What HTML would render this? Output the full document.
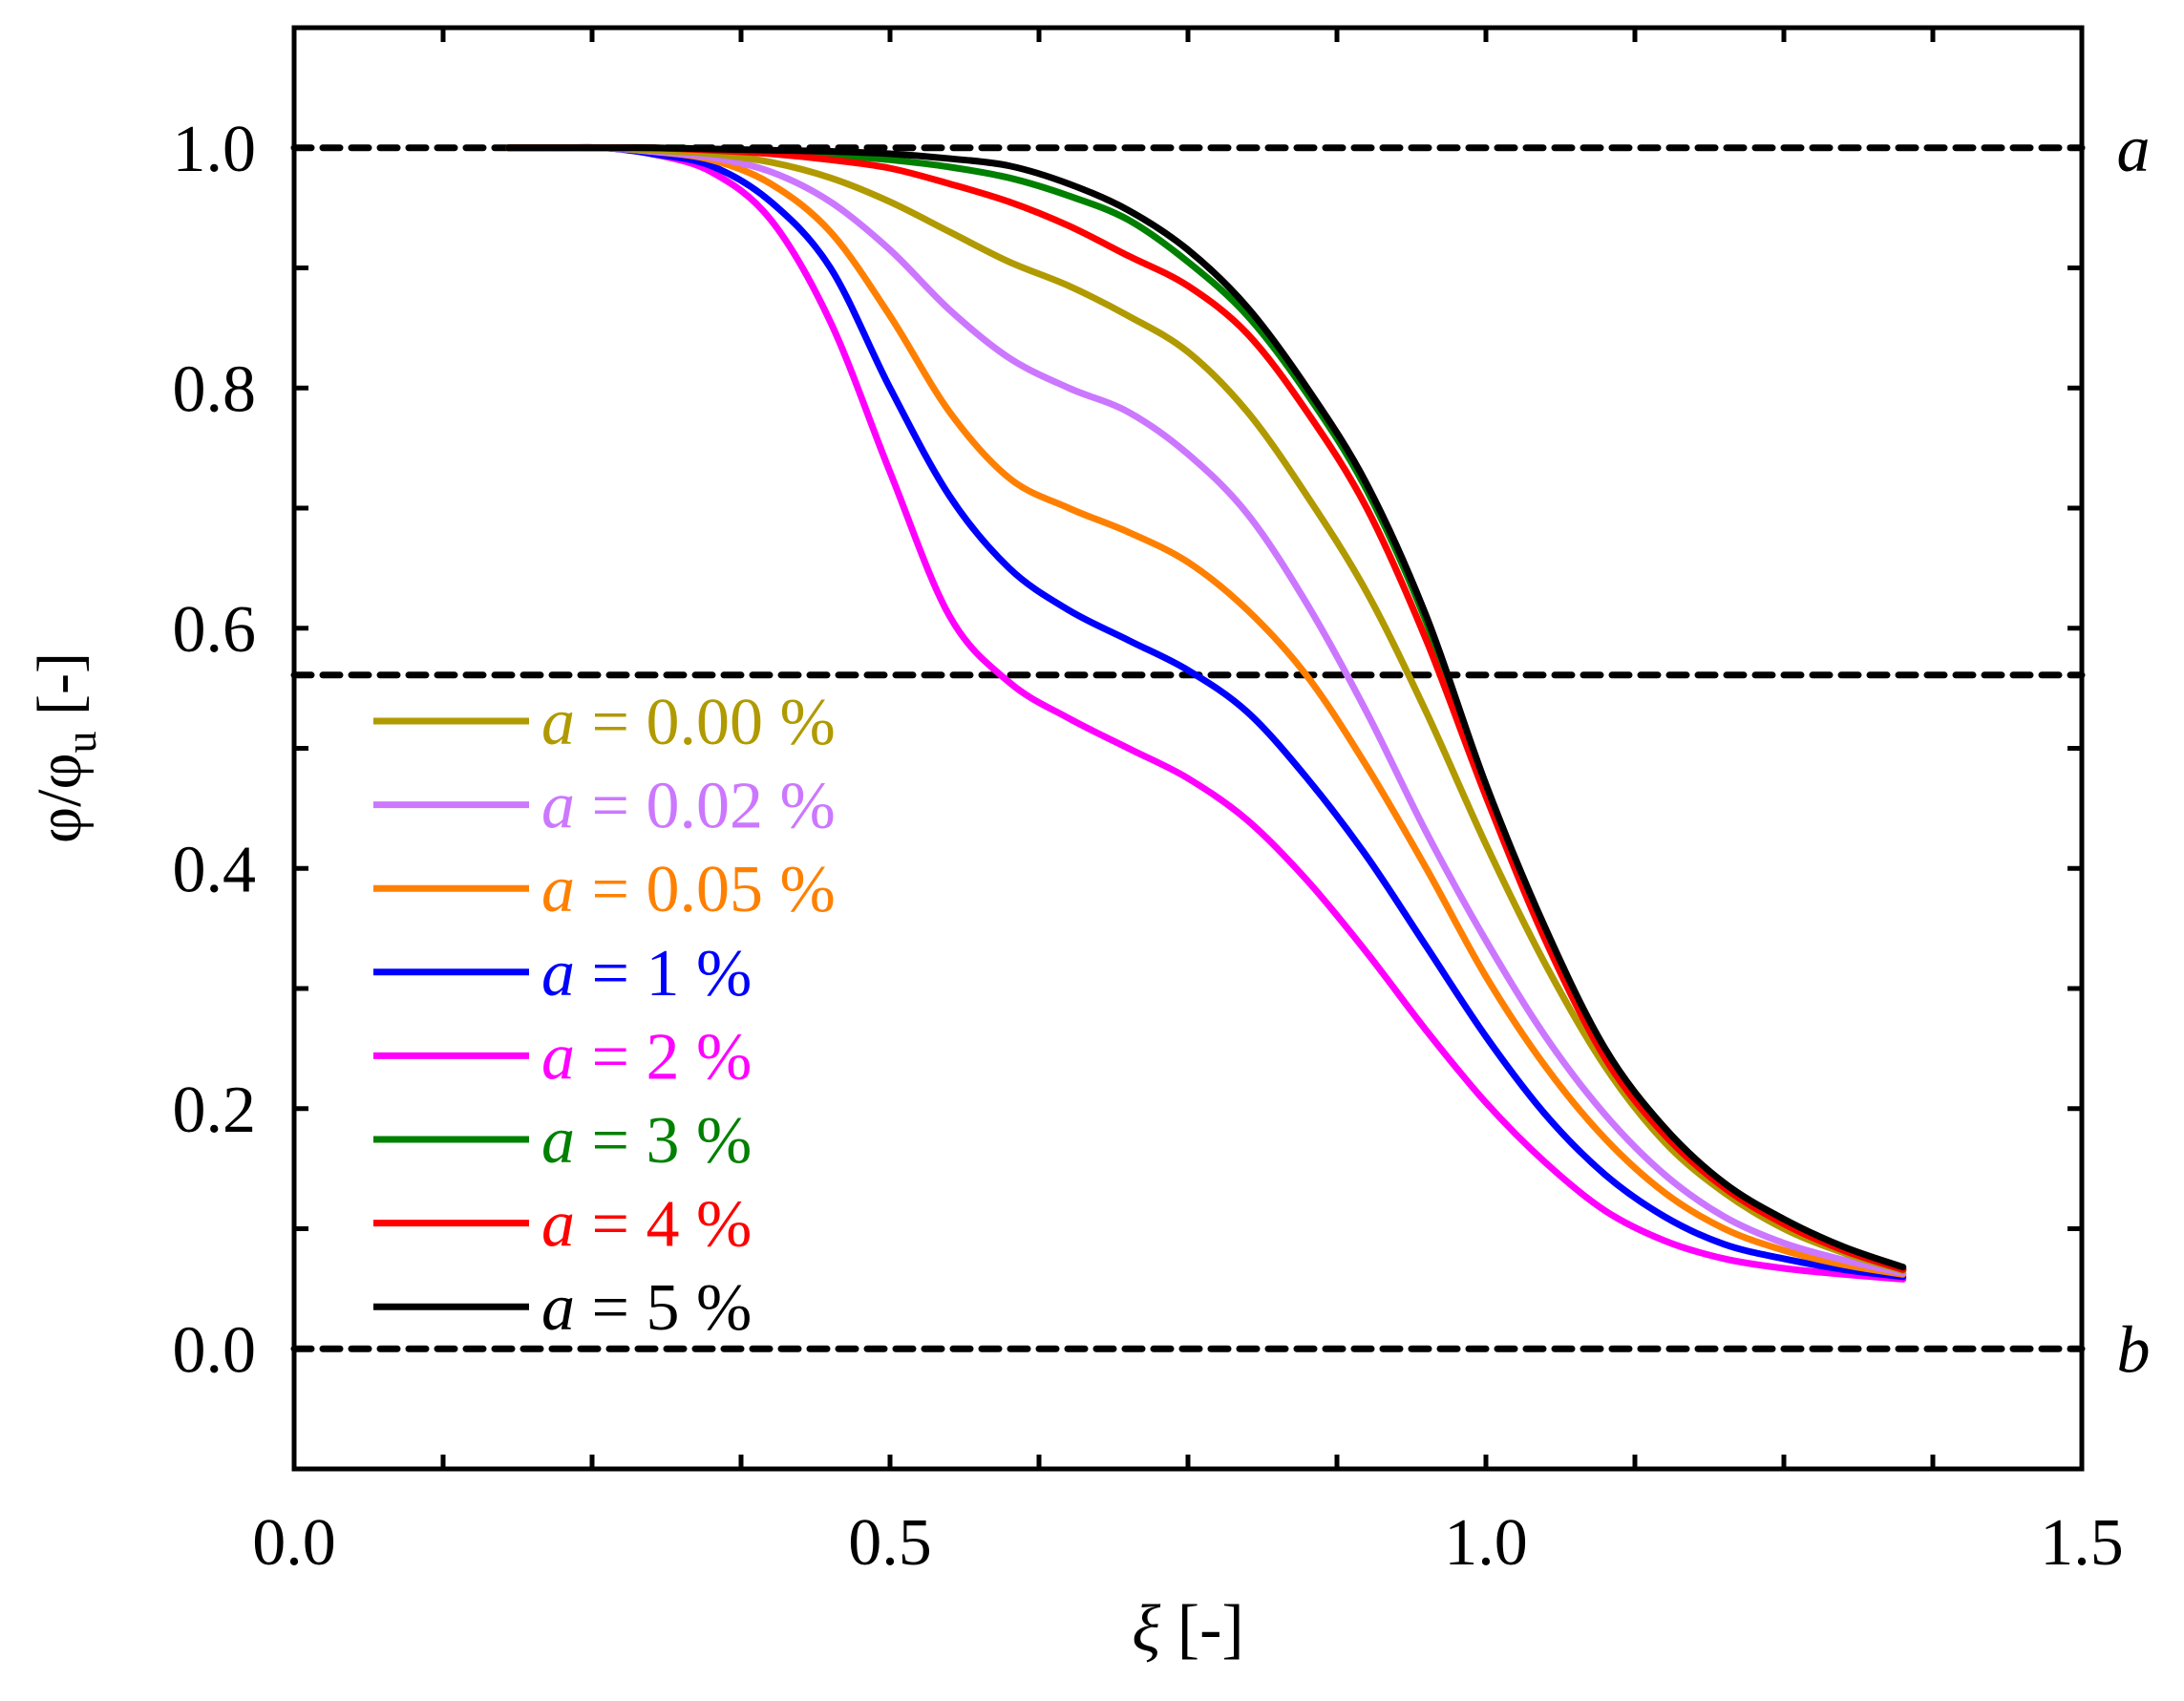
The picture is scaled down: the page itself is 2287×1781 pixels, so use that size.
<!DOCTYPE html>
<html><head><meta charset="utf-8"><style>
html,body{margin:0;padding:0;background:#fff;}
svg{display:block;font-family:"Liberation Serif",serif;}
</style></head><body>
<svg id="chart" width="2287" height="1781" viewBox="0 0 2287 1781" xmlns="http://www.w3.org/2000/svg">
<g id="plot"></g>
</svg>
<script>
const xs = [0.18,0.22,0.26,0.3,0.35,0.4,0.45,0.5,0.55,0.6,0.65,0.7,0.75,0.8,0.85,0.9,0.95,1.0,1.05,1.1,1.15,1.2,1.25,1.3,1.35];
const s000 = [1,1,1,0.998,0.995,0.988,0.975,0.955,0.93,0.905,0.885,0.86,0.83,0.78,0.71,0.63,0.53,0.42,0.32,0.235,0.172,0.13,0.1,0.08,0.065];
const s002 = [1,1,1,0.997,0.992,0.98,0.955,0.915,0.865,0.825,0.8,0.78,0.745,0.695,0.62,0.53,0.43,0.34,0.26,0.195,0.145,0.11,0.088,0.074,0.063];
const s005 = [1,1,1,0.997,0.99,0.97,0.93,0.86,0.78,0.725,0.7,0.68,0.655,0.615,0.56,0.485,0.4,0.31,0.235,0.175,0.13,0.1,0.082,0.07,0.062];
const s1 = [1,1,1,0.995,0.985,0.955,0.9,0.8,0.71,0.65,0.615,0.59,0.565,0.53,0.475,0.41,0.335,0.26,0.195,0.145,0.11,0.087,0.075,0.066,0.06];
const s2 = [1,1,1,0.995,0.98,0.94,0.855,0.73,0.61,0.555,0.525,0.5,0.475,0.44,0.39,0.33,0.265,0.205,0.155,0.115,0.09,0.075,0.067,0.062,0.058];
const s3 = [1,1,1,1,0.999,0.997,0.994,0.99,0.984,0.975,0.96,0.94,0.905,0.86,0.795,0.715,0.605,0.465,0.345,0.245,0.18,0.135,0.105,0.082,0.066];
const s4 = [1,1,1,1,0.998,0.995,0.99,0.983,0.97,0.955,0.935,0.91,0.885,0.845,0.78,0.7,0.59,0.46,0.34,0.242,0.178,0.134,0.104,0.082,0.066];
const s5 = [1,1,1,1,0.999,0.998,0.997,0.995,0.991,0.985,0.97,0.948,0.915,0.867,0.8,0.72,0.61,0.47,0.35,0.25,0.184,0.138,0.108,0.085,0.068];
const seriesNames = ["a = 0.00 %","a = 0.02 %","a = 0.05 %","a = 1 %","a = 2 %","a = 3 %","a = 4 %","a = 5 %"];
const seriesColors = ["#b09a00","#cc77ff","#ff8000","#0000ff","#ff00ff","#008000","#ff0000","#000000"];
const seriesData = [s000,s002,s005,s1,s2,s3,s4,s5];
const drawOrder = [4,3,2,1,0,5,6,7];
const refLines = [1.0,0.561,0.0];
const xTickLabels = ["0.0","0.5","1.0","1.5"];
const yTickLabels = ["0.0","0.2","0.4","0.6","0.8","1.0"];

const X0=308,X1=2180,Y0=1538,Y1=29;
const xmin=0,xmax=1.5,ymin=-0.1,ymax=1.1;
const sx=v=>X0+(v-xmin)/(xmax-xmin)*(X1-X0);
const sy=v=>Y0-(v-ymin)/(ymax-ymin)*(Y0-Y1);
const NS="http://www.w3.org/2000/svg";
const g=document.getElementById('plot');
function mk(tag,attrs,parent){const e=document.createElementNS(NS,tag);for(const k in attrs)e.setAttribute(k,attrs[k]);(parent||g).appendChild(e);return e;}

refLines.forEach((v,i)=>{
  const l=mk('line',{x1:X0,x2:X1,y1:sy(v),y2:sy(v),stroke:'#000','stroke-width':7,'stroke-dasharray':'18 12','stroke-linecap':'round'});
  
  
});

function pathFor(arr){
  const p=xs.map((x,i)=>[sx(x),sy(arr[i])]);
  let d='M'+p[0][0]+','+p[0][1];
  for(let i=0;i<p.length-1;i++){
    const p0=p[Math.max(0,i-1)],p1=p[i],p2=p[i+1],p3=p[Math.min(p.length-1,i+2)];
    const c1x=p1[0]+(p2[0]-p0[0])/6,c1y=p1[1]+(p2[1]-p0[1])/6;
    const c2x=p2[0]-(p3[0]-p1[0])/6,c2y=p2[1]-(p3[1]-p1[1])/6;
    d+=` C${c1x},${c1y} ${c2x},${c2y} ${p2[0]},${p2[1]}`;
  }
  return d;
}
drawOrder.forEach(i=>{
  const e=mk('path',{d:pathFor(seriesData[i]),fill:'none',stroke:seriesColors[i],'stroke-width':7,'stroke-linecap':'round','stroke-linejoin':'round'});
  
  
});

const fr=mk('rect',{x:X0,y:Y1,width:X1-X0,height:Y0-Y1,fill:'none',stroke:'#000','stroke-width':5});



for(let k=0;k<=12;k++){
  const v=k*0.125,x=sx(v);
  mk('line',{x1:x,x2:x,y1:Y0,y2:Y0-15,stroke:'#000','stroke-width':5});
  mk('line',{x1:x,x2:x,y1:Y1,y2:Y1+15,stroke:'#000','stroke-width':5});
}
for(let k=-1;k<=11;k++){
  const v=k*0.1,y=sy(v);
  mk('line',{x1:X0,x2:X0+15,y1:y,y2:y,stroke:'#000','stroke-width':5});
  mk('line',{x1:X1,x2:X1-15,y1:y,y2:y,stroke:'#000','stroke-width':5});
}
xTickLabels.forEach(t=>{
  const e=mk('text',{x:sx(parseFloat(t)),y:1638,'text-anchor':'middle','font-size':70});
  e.textContent=t;
  
  
});
yTickLabels.forEach(t=>{
  const e=mk('text',{x:268,y:sy(parseFloat(t))+24,'text-anchor':'end','font-size':70});
  e.textContent=t;
  
  
});
const xt=mk('text',{x:1244,y:1728,'text-anchor':'middle','font-size':70});
xt.innerHTML='<tspan font-style="italic">ξ</tspan> [-]';


const yt=mk('text',{x:0,y:0,'text-anchor':'middle','font-size':66,transform:'translate(84,783) rotate(-90)'});
yt.innerHTML='φ/φ<tspan font-size="46" dy="16">u</tspan><tspan dy="-16"> [-]</tspan>';


[['a',1.0],['b',0.0]].forEach(([t,v])=>{
  const e=mk('text',{x:2234,y:sy(v)+24,'text-anchor':'middle','font-size':70,'font-style':'italic'});
  e.textContent=t;
  
  
});
seriesNames.forEach((n,i)=>{
  const y=755+i*87.6;
  const lg=mk('g',{});
  
  
  mk('line',{x1:391,x2:554,y1:y,y2:y,stroke:seriesColors[i],'stroke-width':7},lg);
  const t=mk('text',{x:567,y:y+24,'font-size':70,fill:seriesColors[i]},lg);
  t.innerHTML='<tspan font-style="italic">a</tspan>'+n.slice(1);
});
</script>
</body></html>
